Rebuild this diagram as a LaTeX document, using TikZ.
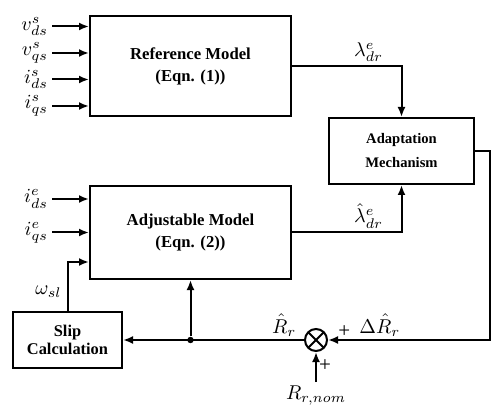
\documentclass[tikz,border=0pt]{standalone}
\usepackage{fontspec}
\setmainfont{Liberation Serif}
\usetikzlibrary{arrows.meta,positioning}

\begin{document}
\begin{tikzpicture}[
  line width=1pt,
  block/.style={draw, align=center, inner sep=2pt, font=\bfseries\fontsize{8.35}{11}\selectfont},
  sig/.style={inner sep=1.5pt, font=\fontsize{10}{12}\selectfont},
  plus/.style={inner sep=1pt, font=\fontsize{10.5}{10.5}\selectfont},
  sumnode/.style={draw, circle, minimum size=11pt, inner sep=0pt,
    path picture={\draw (path picture bounding box.north west) -- (path picture bounding box.south east)
      (path picture bounding box.north east) -- (path picture bounding box.south west);}},
  tapdot/.style={circle, fill, inner sep=0pt, minimum size=3.2pt},
  >={Latex[length=5pt,width=4pt]}
]
\useasboundingbox (0,0) rectangle (245.5pt,-202.5pt);

\node[block, minimum width=100.5pt, minimum height=50pt] (ref) at (95.25pt,-33pt) {Reference Model\\(Eqn. (1))};
\node[block, minimum width=100.5pt, minimum height=46.5pt, below=34pt of ref] (adj) {Adjustable Model\\(Eqn. (2))};
\node[block, minimum width=72.5pt, minimum height=33pt, below right=0pt and 18pt of ref.south east,
  font=\bfseries\fontsize{7.3}{12}\selectfont] (adapt) {Adaptation\\Mechanism};
\node[block, minimum width=54.5pt, minimum height=28pt, below=15.5pt of adj.south west, xshift=-10.75pt,
  font=\bfseries\fontsize{8.2}{8.8}\selectfont] (slip) {Slip\\Calculation};
\node[sumnode, right=90.5pt of slip] (sum) {};
\node[tapdot] (tap) at (adj.south |- sum) {};

% inputs of the reference model
\coordinate (vdsin) at ([yshift=19.75pt]ref.west);
\coordinate (vqsin) at ([yshift=6.5pt]ref.west);
\coordinate (idsin) at ([yshift=-6.75pt]ref.west);
\coordinate (iqsin) at ([yshift=-20pt]ref.west);
\node[sig, left=18.5pt of vdsin] (vds) {$v^s_{ds}$};
\node[sig, left=18.5pt of vqsin] (vqs) {$v^s_{qs}$};
\node[sig, left=18.5pt of idsin] (ids) {$i^s_{ds}$};
\node[sig, left=18.5pt of iqsin] (iqs) {$i^s_{qs}$};

% inputs of the adjustable model
\coordinate (idein) at ([yshift=16.75pt]adj.west);
\coordinate (iqein) at (adj.west);
\coordinate (wslin) at ([yshift=-14.75pt]adj.west);
\node[sig, left=18.5pt of idein] (ide) {$i^e_{ds}$};
\node[sig, left=18.5pt of iqein] (iqe) {$i^e_{qs}$};

\node[sig, below=15pt of sum] (rnom) {$R_{r,nom}$};
\node[sig, above left=5pt and 1pt of slip.north] (wsl) {$\omega_{sl}$};

\draw[->] (vds) -- (vdsin);
\draw[->] (vqs) -- (vqsin);
\draw[->] (ids) -- (idsin);
\draw[->] (iqs) -- (iqsin);
\draw[->] (ide) -- (idein);
\draw[->] (iqe) -- (iqein);
\draw[->] (slip.north) |- (wslin);

\draw[->] (ref.east) -| node[sig, pos=0.35, above] (lam) {$\lambda^e_{dr}$} (adapt.north);
\draw[->] (adj.east) -| node[sig, pos=0.35, above] (lamhat) {$\hat{\lambda}^e_{dr}$} (adapt.south);
\draw[->] (adapt.east) -- ++(7.5pt,0) |- node[sig, pos=0.84, above] (dr) {$\Delta\hat{R}_r$}
  node[plus, pos=0.95, above] (pr) {+} (sum);
\draw[->] (sum) -- node[sig, pos=0.11, above] (rhat) {$\hat{R}_r$} (slip);
\draw[->] (tap) -- (adj.south);
\draw[->] (rnom) -- node[plus, pos=0.55, right] (pn) {+} (sum);
\end{tikzpicture}
\end{document}
